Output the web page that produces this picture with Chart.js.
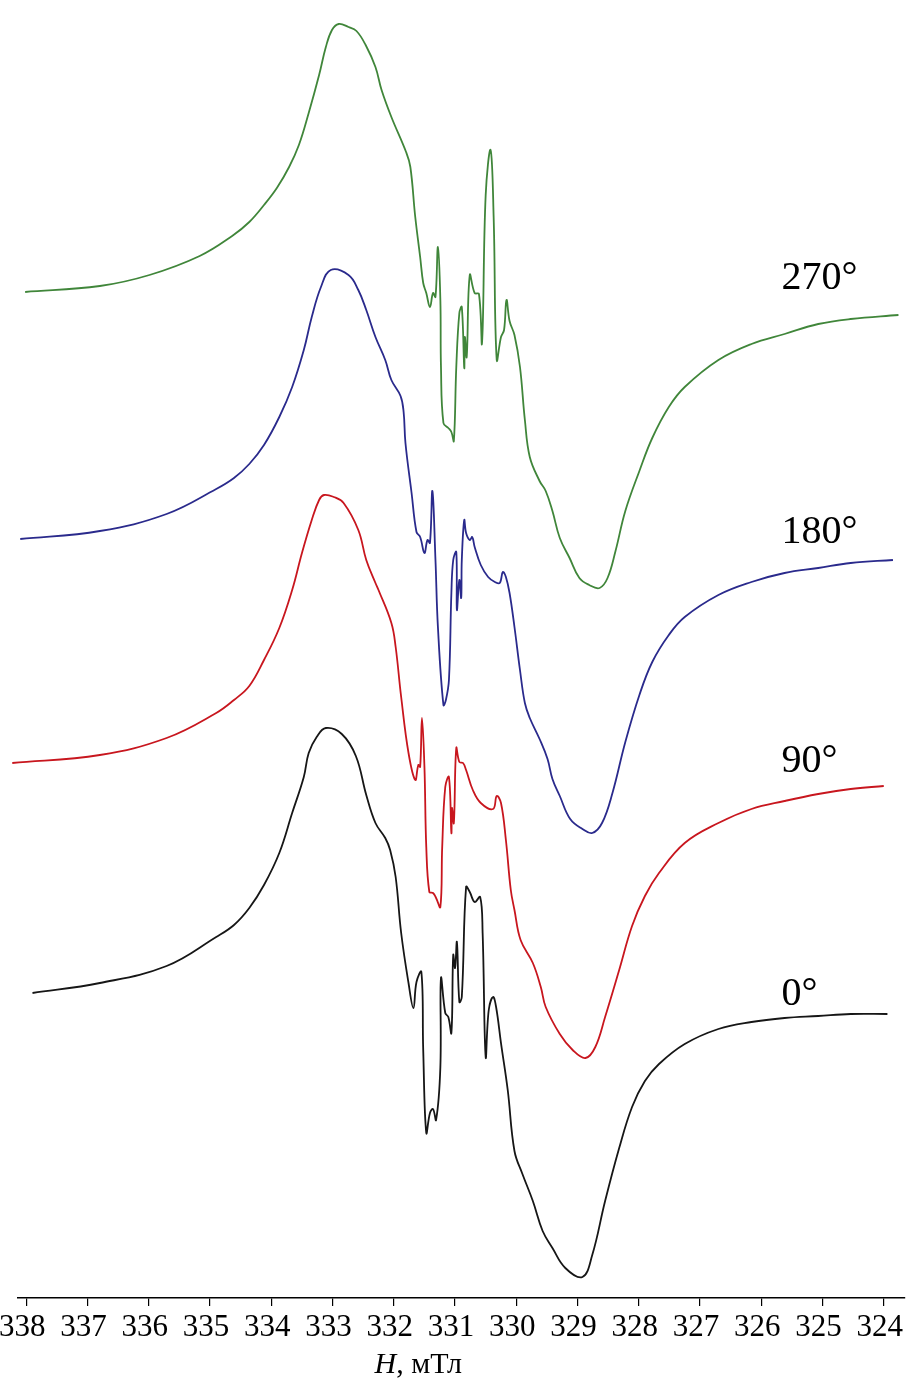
<!DOCTYPE html>
<html lang="ru">
<head>
<meta charset="utf-8">
<title>Спектры ЭПР</title>
<script src="https://cdn.jsdelivr.net/npm/chart.js@4.4.1/dist/chart.umd.min.js"></script>
<style>
  html, body { margin: 0; padding: 0; background: #fff; }
  #wrap { width: 910px; height: 1385px; }
</style>
</head>
<body>
<div id="wrap"><canvas id="spectra" width="910" height="1385"></canvas></div>
<script>
// EPR spectra at four rotation angles, H in mT, intensity in arbitrary units (offset per curve)
const fieldTicks = [338, 337, 336, 335, 334, 333, 332, 331, 330, 329, 328, 327, 326, 325, 324];

const field270 = [338.02, 336.80, 335.99, 335.17, 334.64, 334.36, 334.12, 333.91, 333.71, 333.55, 333.39, 333.22,
  333.11, 333.01, 332.90,
  332.74, 332.61, 332.46, 332.30, 332.20, 332.04, 331.80, 331.73, 331.65, 331.57, 331.52, 331.47, 331.41, 331.36,
  331.32, 331.28, 331.24, 331.23, 331.19, 331.11, 331.06, 331.02, 330.98, 330.93, 330.89, 330.85, 330.84, 330.81,
  330.76, 330.68, 330.61, 330.56, 330.50, 330.42, 330.37, 330.32, 330.25, 330.20, 330.16, 330.11, 330.03, 329.94,
  329.86, 329.78, 329.62, 329.52, 329.41, 329.29, 329.13, 328.97, 328.81, 328.64, 328.51, 328.38, 328.22, 327.99,
  327.78, 327.51, 327.25, 326.70, 326.16, 325.62, 325.07, 324.54, 323.76];
const signal270 = [1006, 1012, 1023, 1042, 1062, 1076, 1093, 1110, 1131, 1153, 1185, 1223,
  1251, 1268, 1274,
  1271, 1267, 1253, 1231, 1208, 1181, 1146, 1131, 1081, 1041, 1015, 1005, 991, 1005,
  1001, 1051, 998, 931, 875, 870, 866, 857, 931, 985, 991, 930, 961, 941,
  1023, 1005, 1004, 955, 1103, 1148, 1081, 938, 961, 968, 998, 977, 963, 931,
  878, 841, 817, 807, 787, 760, 740, 720, 713, 710, 720, 747, 787, 827,
  860, 891, 911, 938, 954, 964, 974, 979, 983];

const field180 = [338.10, 336.80, 335.71, 334.90, 334.61, 334.36, 334.12, 333.87, 333.66, 333.47, 333.34, 333.19, 333.03, 332.74,
  332.58, 332.45, 332.30, 332.14, 332.04, 331.89, 331.84, 331.81, 331.71, 331.63, 331.57, 331.50, 331.45, 331.41,
  331.37, 331.32, 331.28, 331.19, 331.15, 331.10, 331.06, 331.03, 330.98, 330.97, 330.93, 330.90, 330.89, 330.85,
  330.82, 330.76, 330.72, 330.68, 330.58, 330.46, 330.35, 330.27, 330.22, 330.17, 330.11, 330.03, 329.94, 329.86,
  329.78, 329.62, 329.49, 329.41, 329.29, 329.12, 328.92, 328.76, 328.60, 328.43, 328.22, 327.99, 327.78, 327.51,
  327.25, 326.70, 326.16, 325.62, 325.07, 324.54, 323.85];
const signal180 = [759, 767, 784, 809, 820, 834, 853, 881, 911, 948, 981, 1011, 1028, 1023,
  1008, 988, 961, 938, 918, 902, 886, 855, 805, 766, 761, 745, 758, 755,
  807, 738, 671, 593, 598, 618, 705, 738, 746, 688, 718, 700, 738, 778,
  765, 758, 761, 751, 733, 721, 716, 715, 726, 721, 705, 671, 628, 595,
  580, 559, 539, 519, 502, 479, 469, 465, 475, 505, 556, 603, 636, 663,
  681, 703, 716, 725, 730, 735, 738];

const field90 = [338.23, 336.80, 335.71, 334.90, 334.61, 334.36, 334.12, 333.87, 333.66, 333.50, 333.34, 333.22, 333.14, 332.98,
  332.82, 332.58, 332.45, 332.30, 332.25, 332.04, 331.97, 331.88, 331.76, 331.65, 331.60, 331.57, 331.54, 331.50,
  331.47, 331.42, 331.36, 331.31, 331.24, 331.21, 331.16, 331.10, 331.06, 331.05, 331.02, 330.98, 330.93, 330.87,
  330.82, 330.71, 330.58, 330.38, 330.32, 330.25, 330.17, 330.09, 330.03, 329.93, 329.73, 329.60, 329.52, 329.29,
  329.08, 328.87, 328.71, 328.55, 328.32, 328.11, 327.90, 327.67, 327.25, 326.70, 326.16, 325.62, 325.07, 324.54,
  324.00];
const signal90 = [535, 543, 560, 585, 598, 612, 638, 670, 708, 745, 778, 798, 803, 801,
  795, 768, 738, 715, 708, 675, 651, 601, 545, 518, 533, 531, 580, 531,
  451, 406, 405, 400, 391, 451, 511, 521, 465, 490, 475, 550, 536, 535,
  528, 508, 495, 489, 502, 495, 458, 408, 388, 358, 335, 311, 291, 264,
  248, 240, 251, 281, 328, 372, 402, 425, 455, 475, 489, 497, 504, 509,
  512];

const field0 = [337.90, 336.80, 335.71, 334.90, 334.61, 334.36, 334.12, 333.87, 333.66, 333.47, 333.39, 333.26, 333.11, 332.85,
  332.62, 332.45, 332.30, 332.14, 332.06, 331.97, 331.88, 331.76, 331.68, 331.63, 331.55, 331.52, 331.47, 331.41,
  331.36, 331.31, 331.24, 331.23, 331.16, 331.11, 331.06, 331.03, 331.00, 330.97, 330.93, 330.89, 330.82, 330.76,
  330.68, 330.59, 330.55, 330.50, 330.45, 330.38, 330.33, 330.25, 330.14, 330.03, 329.90, 329.73, 329.57, 329.41,
  329.20, 328.92, 328.76, 328.55, 328.32, 328.11, 327.90, 327.67, 327.25, 326.70, 326.16, 325.62, 325.07, 324.54,
  323.94];
const signal0 = [305, 315, 332, 361, 373, 390, 413, 445, 485, 521, 545, 561, 570, 564,
  542, 503, 475, 460, 448, 421, 365, 315, 290, 316, 326, 248, 165, 185,
  189, 178, 231, 320, 285, 281, 265, 343, 330, 356, 296, 301, 411, 406,
  396, 401, 365, 241, 288, 301, 291, 255, 208, 147, 124, 97, 67, 50,
  30, 21, 43, 97, 150, 191, 217, 234, 254, 269, 276, 280, 282, 284,
  284];

const angleLabels = ['270°', '180°', '90°', '0°'];
const angleLabelLevel = [1009, 755, 526, 293];
const angleLabelField = 325.67;

function toPoints(fields, values) {
  return fields.map((f, i) => ({ x: f, y: values[i] }));
}

function makeSet(label, fields, values, color) {
  return {
    label: label,
    data: toPoints(fields, values),
    borderColor: color,
    borderWidth: 1.8,
    pointRadius: 0,
    fill: false,
    tension: 0.4,
    clip: false
  };
}

// angle labels next to the right wings and the axis title with italic H
const textPlugin = {
  id: 'spectraText',
  afterDraw(chart) {
    const ctx = chart.ctx;
    const xs = chart.scales.x;
    const ys = chart.scales.y;
    ctx.save();
    ctx.fillStyle = '#000';
    ctx.textAlign = 'left';
    ctx.textBaseline = 'alphabetic';
    ctx.font = '40px "Liberation Serif"';
    angleLabels.forEach((t, i) => {
      ctx.fillText(t, xs.getPixelForValue(angleLabelField), ys.getPixelForValue(angleLabelLevel[i]));
    });

    const italicFont = 'italic 30px "Liberation Serif"';
    const plainFont = '30px "Liberation Serif"';
    ctx.font = italicFont;
    const wH = ctx.measureText('H').width;
    ctx.font = plainFont;
    const wRest = ctx.measureText(', мТл').width;
    const cx = xs.getPixelForValue(331.6);
    const left = cx - (wH + wRest) / 2;
    const base = chart.height - 12;
    ctx.font = italicFont;
    ctx.fillText('H', left, base);
    ctx.font = plainFont;
    ctx.fillText(', мТл', left + wH, base);
    ctx.restore();
  }
};

window.addEventListener('DOMContentLoaded', () => {
  const ctx = document.getElementById('spectra').getContext('2d');
  new Chart(ctx, {
    type: 'line',
    data: {
      datasets: [
        makeSet('270°', field270, signal270, 'rgb(64, 134, 58)'),
        makeSet('180°', field180, signal180, 'rgb(42, 42, 140)'),
        makeSet('90°', field90, signal90, 'rgb(200, 22, 30)'),
        makeSet('0°', field0, signal0, 'rgb(22, 22, 22)')
      ]
    },
    options: {
      responsive: false,
      animation: false,
      devicePixelRatio: 1,
      layout: { padding: { left: 17, right: 0, top: 0, bottom: 0 } },
      plugins: {
        legend: { display: false },
        tooltip: { enabled: false }
      },
      scales: {
        x: {
          type: 'linear',
          reverse: true,
          min: 323.66,
          max: 338.146,
          afterBuildTicks: (scale) => {
            scale.ticks = fieldTicks.map(v => ({ value: v }));
          },
          afterFit: (scale) => { scale.height = 87; },
          border: { display: true, color: '#000', width: 1.5 },
          grid: {
            display: true,
            drawOnChartArea: false,
            drawTicks: true,
            tickLength: 8,
            color: '#000',
            lineWidth: 1.2
          },
          ticks: {
            autoSkip: false,
            maxRotation: 0,
            padding: 3,
            labelOffset: -4,
            color: '#000',
            font: { family: '"Liberation Serif"', size: 31 },
            callback: (v) => String(v)
          },
          title: { display: false }
        },
        y: {
          display: false,
          min: 0,
          max: 1298
        }
      }
    },
    plugins: [textPlugin]
  });
});
</script>
</body>
</html>
